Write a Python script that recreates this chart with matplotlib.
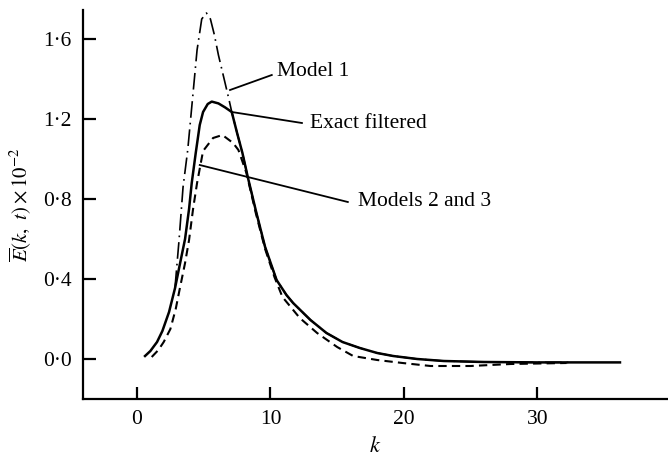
import matplotlib
matplotlib.use('Agg')
import matplotlib.pyplot as plt

plt.rcParams['font.family'] = ['Liberation Serif', 'DejaVu Serif']
plt.rcParams['mathtext.fontset'] = 'stix'

# Exact filtered (solid)
k_exact = [0.6, 1.0, 1.5, 1.9, 2.4, 2.85, 3.2, 3.6, 3.9, 4.1, 4.4, 4.7, 4.95, 5.3, 5.6,
           6.1, 6.6, 7.1, 7.5, 7.9, 8.3, 8.95, 9.6, 10.46, 11.2, 11.7, 13.0, 14.2, 15.4,
           16.7, 18.0, 19.2, 21.0, 23.0, 26.0, 30.0, 36.2]
e_exact = [0.015, 0.04, 0.085, 0.14, 0.235, 0.355, 0.47, 0.6, 0.75, 0.88, 1.03, 1.17, 1.235,
           1.275, 1.287, 1.278, 1.258, 1.235, 1.13, 1.03, 0.91, 0.73, 0.56, 0.395, 0.32, 0.28,
           0.195, 0.13, 0.085, 0.055, 0.03, 0.015, 0.0, -0.01, -0.015, -0.017, -0.017]

# Model 1 (dash-dot)
k_model1 = [2.85, 3.15, 3.45, 3.8, 4.2, 4.5, 4.85, 5.2, 5.5, 5.8, 6.1, 6.6, 6.9, 7.1, 7.5,
            7.9, 8.3, 8.95, 9.6, 10.46, 11.2, 11.7, 13.0, 14.2, 15.4, 16.7, 18.0, 19.2,
            21.0, 23.0, 26.0, 30.0, 32.5]
e_model1 = [0.36, 0.595, 0.86, 1.045, 1.33, 1.545, 1.7, 1.73, 1.7, 1.62, 1.52, 1.38, 1.295,
            1.235, 1.13, 1.03, 0.91, 0.73, 0.56, 0.395, 0.32, 0.28, 0.195, 0.13, 0.085,
            0.055, 0.03, 0.015, 0.0, -0.01, -0.015, -0.017, -0.017]

# Models 2 and 3 (dashed)
k_model23 = [1.1, 1.6, 2.0, 2.5, 2.9, 3.2, 3.6, 3.9, 4.2, 4.5, 4.95, 5.7, 6.4, 7.2, 7.6,
             8.2, 8.9, 9.6, 10.3, 10.9, 12.2, 13.5, 15.0, 16.2, 18.0, 19.9, 22.0, 25.0,
             28.0, 32.2]
e_model23 = [0.01, 0.045, 0.085, 0.15, 0.25, 0.35, 0.48, 0.595, 0.75, 0.88, 1.04, 1.105, 1.12,
             1.08, 1.045, 0.93, 0.73, 0.55, 0.41, 0.31, 0.205, 0.13, 0.06, 0.015, -0.005,
             -0.02, -0.035, -0.035, -0.025, -0.02]

x_ticks = [0, 10, 20, 30]
x_ticklabels = ['0', '10', '20', '30']
y_ticks = [0.0, 0.4, 0.8, 1.2, 1.6]
y_ticklabels = ['0·0', '0·4', '0·8', '1·2', '1·6']

# annotation labels: (text, line start, line end, text position)
notes = [
    ('Model 1', (6.97, 1.345), (10.1, 1.42), (10.5, 1.435)),
    ('Exact filtered', (7.1, 1.235), (12.36, 1.18), (12.95, 1.18)),
    ('Models 2 and 3', (4.7, 0.97), (15.8, 0.785), (16.6, 0.785)),
]

fig = plt.figure(figsize=(6.68, 4.58), dpi=100)
ax = fig.add_axes([83 / 668, 1 - 399 / 458, 1 - 83 / 668, (399 - 10) / 458])

ax.plot(k_exact, e_exact, color='black', lw=1.8)
ax.plot(k_model23, e_model23, color='black', lw=1.5, linestyle=(0, (4, 2.5)))
ax.plot(k_model1, e_model1, color='black', lw=1.2, linestyle=(0, (10, 3, 1, 3)))

for text, p0, p1, pt in notes:
    ax.plot([p0[0], p1[0]], [p0[1], p1[1]], color='black', lw=1.3)
    ax.text(pt[0], pt[1], text, fontsize=15.5, ha='left', va='center')

ax.set_xlim(-4.05, 39.8)
ax.set_ylim(-0.2, 1.745)
ax.set_xticks(x_ticks)
ax.set_xticklabels(x_ticklabels)
ax.set_yticks(y_ticks)
ax.set_yticklabels(y_ticklabels)

for s in ['top', 'right']:
    ax.spines[s].set_visible(False)
for s in ['left', 'bottom']:
    ax.spines[s].set_linewidth(1.6)

ax.tick_params(direction='in', length=9, width=1.6, labelsize=15.5, pad=8)
ax.set_xlabel(r'$k$', fontsize=16, labelpad=6)
ax.set_ylabel(r'$\overline{E}(k,\ t)\times10^{-2}$', fontsize=15, labelpad=7)

fig.savefig('out.png', dpi=100)
